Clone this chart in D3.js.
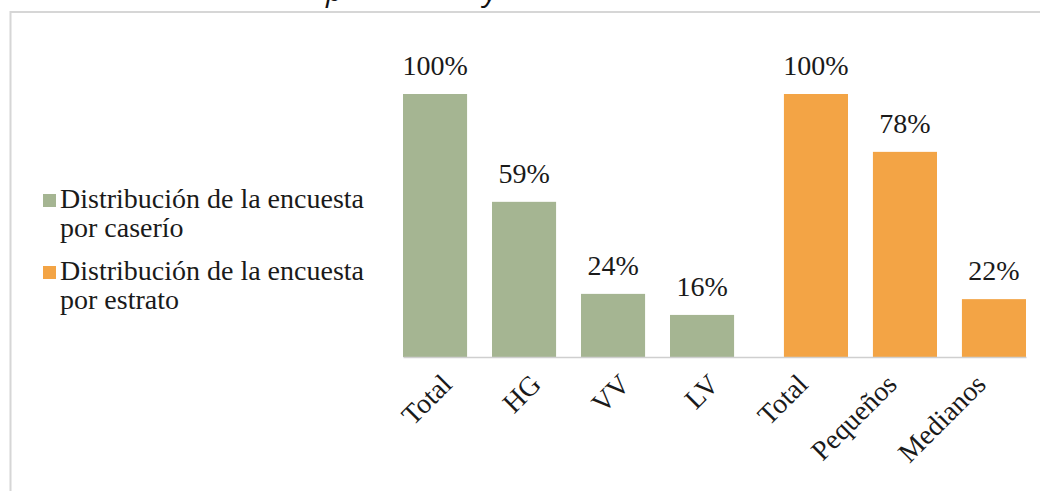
<!DOCTYPE html>
<html>
<head>
<meta charset="utf-8">
<script src="https://cdn.jsdelivr.net/npm/d3@7"></script>
<style>
  html, body { margin: 0; padding: 0; background: #ffffff; }
  svg { display: block; }
</style>
</head>
<body>
<svg id="chart" width="1040" height="491"></svg>
<script>
// ---- data ----
const categoryKeys = ["c1", "c2", "c3", "c4", "c5", "c6", "c7"];
const categoryLabels = ["Total", "HG", "VV", "LV", "Total", "Pequeños", "Medianos"];
const seriesNames = ["Distribución de la encuesta por caserío", "Distribución de la encuesta por estrato"];
const seriesLegendLines = [["Distribución de la encuesta", "por caserío"], ["Distribución de la encuesta", "por estrato"]];
const caserioValues = [1.00, 0.59, 0.24, 0.16, null, null, null];
const estratoValues = [null, null, null, null, 1.00, 0.78, 0.22];
const seriesColors = ["#a5b592", "#f3a445"];
const titleFragments = ["p", "y"];

const svg = d3.select("#chart");
const W = 1040, H = 491;
const serif = "'Liberation Serif', 'Times New Roman', serif";
const fs = 28;

// frame
svg.append("rect")
  .attr("x", 10.5).attr("y", 12)
  .attr("width", W + 20).attr("height", H + 20)
  .attr("fill", "#ffffff")
  .attr("stroke", "#d6d6d6").attr("stroke-width", 2);

// clipped title fragments (only descenders visible, as in the reference)
const titleX = d3.scalePoint().domain(titleFragments).range([326, 484]);
svg.selectAll("text.title").data(titleFragments).join("text")
  .attr("class", "title")
  .attr("x", d => titleX(d))
  .attr("y", 1)
  .attr("font-family", "'Open Sans', 'Liberation Sans', sans-serif")
  .attr("font-style", "italic")
  .attr("font-size", 30)
  .attr("fill", "#111")
  .text(d => d);

// scales
const x = d3.scaleBand().domain(categoryKeys).range([403, 1026]).padding(0);
const y = d3.scaleLinear().domain([0, 1]).range([357, 94]);
const barW = x.bandwidth() * 0.72;

const rows = [];
categoryKeys.forEach((k, i) => {
  if (caserioValues[i] != null) rows.push({key: k, s: 0, v: caserioValues[i]});
  if (estratoValues[i] != null) rows.push({key: k, s: 1, v: estratoValues[i]});
});
const barX = d => d.s === 0 ? x(d.key) : x(d.key) + x.bandwidth() - barW;

// bars
svg.append("g").selectAll("rect").data(rows).join("rect")
  .attr("x", d => barX(d))
  .attr("y", d => y(d.v))
  .attr("width", barW)
  .attr("height", d => y(0) - y(d.v))
  .attr("fill", d => seriesColors[d.s]);

// axis baseline
const xAxis = d3.axisBottom(x).tickSize(0).tickFormat((d, i) => categoryLabels[i]);
const gx = svg.append("g").attr("transform", `translate(0,${y(0)})`).call(xAxis);
gx.select(".domain").attr("stroke", "#cfcfcf").attr("stroke-width", 1.5);
gx.selectAll(".tick text")
  .attr("font-family", serif)
  .attr("font-size", fs)
  .attr("fill", "#1a1a1a")
  .attr("text-anchor", "end")
  .attr("dy", 0)
  .attr("y", 0)
  .attr("transform", "translate(6,29) rotate(-45)");

// data labels
svg.append("g").selectAll("text").data(rows).join("text")
  .attr("x", d => barX(d) + barW / 2)
  .attr("y", d => y(d.v) - 19)
  .attr("text-anchor", "middle")
  .attr("font-family", serif)
  .attr("font-size", fs)
  .attr("fill", "#1a1a1a")
  .text(d => d3.format(".0%")(d.v));

// legend
const legendY = d3.scalePoint().domain(seriesNames).range([208, 280]);
const lg = svg.append("g").selectAll("g").data(seriesNames).join("g")
  .attr("transform", d => `translate(0,${legendY(d)})`);
lg.append("rect")
  .attr("x", 43).attr("y", -14).attr("width", 13).attr("height", 13)
  .attr("fill", (d, i) => seriesColors[i]);
lg.append("text")
  .attr("x", 60).attr("y", 0)
  .attr("font-family", serif)
  .attr("font-size", fs)
  .attr("fill", "#1a1a1a")
  .selectAll("tspan").data((d, i) => seriesLegendLines[i]).join("tspan")
  .attr("x", 60)
  .attr("dy", (d, j) => j === 0 ? 0 : 29)
  .text(d => d);
</script>
</body>
</html>
